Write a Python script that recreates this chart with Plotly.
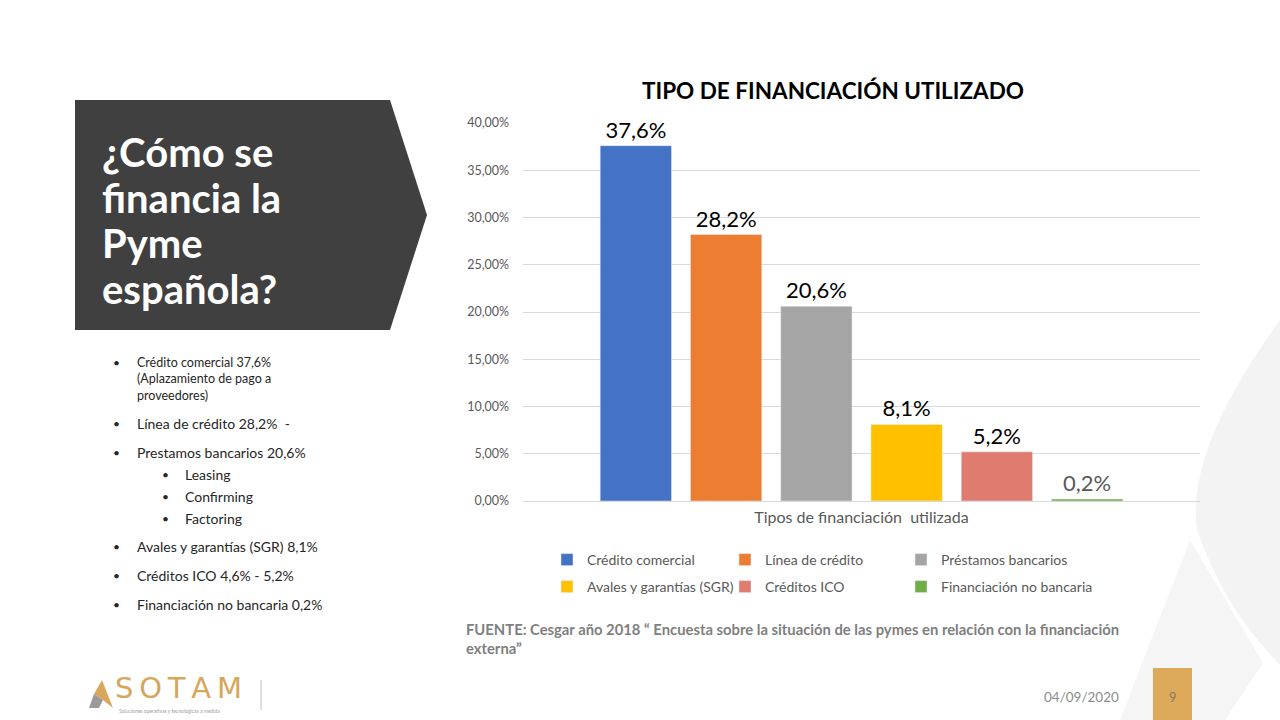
import plotly.graph_objects as go

W, H = 1280, 720

category = ["Tipos de financiación  utilizada"]
series_names = ["Crédito comercial", "Línea de crédito", "Préstamos bancarios",
                "Avales y garantías (SGR)", "Créditos ICO", "Financiación no bancaria"]
series_values = [0.376, 0.282, 0.206, 0.081, 0.052, 0.002]
series_labels = ["37,6%", "28,2%", "20,6%", "8,1%", "5,2%", "0,2%"]
series_colors = ["#4472C4", "#ED7D31", "#A5A5A5", "#FFC000", "#E07B70", "#70AD47"]
label_colors = ["#000000", "#000000", "#000000", "#000000", "#000000", "#595959"]
y_ticks = [0, 0.05, 0.10, 0.15, 0.20, 0.25, 0.30, 0.35, 0.40]

# legend entry positions (pixels): left x of text, centre y of row
legend_pos = [(587, 560), (765, 560), (941, 560), (587, 587), (765, 587), (941, 587)]

bullets = [
    (0, "Crédito comercial 37,6%<br>(Aplazamiento de pago a<br>proveedores)", 362, 12.5, 8.5),
    (0, "Línea de crédito 28,2%  -", 423, 14, 10.5),
    (0, "Prestamos bancarios 20,6%", 452, 14, 10.5),
    (1, "Leasing", 474, 14, 10.5),
    (1, "Confirming", 496, 14, 10.5),
    (1, "Factoring", 518, 14, 10.5),
    (0, "Avales y garantías (SGR) 8,1%", 546, 14, 10.5),
    (0, "Créditos ICO 4,6% - 5,2%", 575, 14, 10.5),
    (0, "Financiación no bancaria 0,2%", 604, 14, 10.5),
]

FONT = "Lato"


def px(x):
    return x / W


def py(y):
    return 1 - y / H


fig = go.Figure()
legend_cfg = {}
for i, (name, val, lab, col, lcol) in enumerate(
        zip(series_names, series_values, series_labels, series_colors, label_colors)):
    lname = "legend" if i == 0 else f"legend{i + 1}"
    fig.add_trace(go.Bar(
        x=category, y=[val], name=name, marker_color=col,
        text=[lab], textposition="outside", constraintext="none",
        textfont=dict(size=22, color=lcol, family=FONT),
        cliponaxis=False,
        legend=lname,
        hoverinfo="skip",
    ))
    lx, ly = legend_pos[i]
    legend_cfg[lname] = dict(
        orientation="h", x=px(lx - 40), y=py(ly), xanchor="left", yanchor="middle",
        itemwidth=30, font=dict(size=14, color="#595959", family=FONT),
        bgcolor="rgba(0,0,0,0)", itemclick=False, itemdoubleclick=False,
        borderwidth=0,
    )

shapes = []
annotations = []

# background faint decorative shapes
shapes.append(dict(type="path", xref="paper", yref="paper", layer="below",
                   path=f"M {px(1280)},{py(320)} Q {px(1185)},{py(450)} {px(1197)},{py(530)} "
                        f"Q {px(1225)},{py(610)} {px(1280)},{py(665)} Z",
                   fillcolor="#F3F3F3", line=dict(width=0)))
shapes.append(dict(type="path", xref="paper", yref="paper", layer="below",
                   path=f"M {px(1190)},{py(540)} L {px(1263)},{py(663)} L {px(1225)},{py(720)} "
                        f"L {px(1120)},{py(720)} Z",
                   fillcolor="#F5F5F5", line=dict(width=0)))

# left chevron panel
shapes.append(dict(type="path", xref="paper", yref="paper",
                   path=f"M {px(75)},{py(100)} L {px(390)},{py(100)} L {px(427)},{py(215)} "
                        f"L {px(390)},{py(330)} L {px(75)},{py(330)} Z",
                   fillcolor="#404040", line=dict(width=0)))
title_lines = ["¿Cómo se", "financia la", "Pyme", "española?"]
for k, t in enumerate(title_lines):
    annotations.append(dict(text=t, xref="paper", yref="paper", x=px(100), y=py(152 + 45.5 * k),
                            xanchor="left", yanchor="middle", showarrow=False,
                            font=dict(family=FONT, size=40, color="white", weight="bold")))

# bullet list
for lvl, t, yy, fs, off in bullets:
    tx = 135 if lvl == 0 else 183
    bx = 111 if lvl == 0 else 160
    annotations.append(dict(text="•", xref="paper", yref="paper", x=px(bx), y=py(yy),
                            xanchor="left", yanchor="middle", showarrow=False,
                            font=dict(family=FONT, size=12, color="#262626")))
    annotations.append(dict(text=t, xref="paper", yref="paper", x=px(tx), y=py(yy - off),
                            xanchor="left", yanchor="top", align="left", showarrow=False,
                            font=dict(family=FONT, size=fs, color="#262626")))

# chart title
annotations.append(dict(text="TIPO DE FINANCIACIÓN UTILIZADO", xref="paper", yref="paper",
                        x=px(833), y=py(90), xanchor="center", yanchor="middle", showarrow=False,
                        font=dict(family=FONT, size=22.5, color="#000000", weight="bold")))

# source
annotations.append(dict(text="FUENTE: Cesgar año 2018 “ Encuesta sobre la situación de las pymes en relación con la financiación<br>externa”",
                        xref="paper", yref="paper", x=px(464), y=py(618), xanchor="left", yanchor="top",
                        align="left", showarrow=False,
                        font=dict(family=FONT, size=14.8, color="#7F7F7F", weight="bold")))

# footer: date and page number
annotations.append(dict(text="04/09/2020", xref="paper", yref="paper", x=px(1081), y=py(697),
                        xanchor="center", yanchor="middle", showarrow=False,
                        font=dict(family=FONT, size=13.5, color="#8C8C8C")))
shapes.append(dict(type="rect", xref="paper", yref="paper", x0=px(1153), x1=px(1192),
                   y0=py(668), y1=py(720), fillcolor="#DDA95B", line=dict(width=0)))
annotations.append(dict(text="9", xref="paper", yref="paper", x=px(1172.5), y=py(697),
                        xanchor="center", yanchor="middle", showarrow=False,
                        font=dict(family=FONT, size=13, color="#8C7B60")))

# logo
shapes.append(dict(type="path", xref="paper", yref="paper",
                   path=f"M {px(102)},{py(680)} L {px(113)},{py(708)} L {px(103)},{py(700)} L {px(94)},{py(694)} Z",
                   fillcolor="#D9A75A", line=dict(width=0)))
shapes.append(dict(type="path", xref="paper", yref="paper",
                   path=f"M {px(94)},{py(694)} L {px(103)},{py(700)} L {px(99)},{py(708)} L {px(89)},{py(708)} Z",
                   fillcolor="#9A9A9A", line=dict(width=0)))
annotations.append(dict(text="S\u2009O\u2009T\u2009A\u2009M", xref="paper", yref="paper", x=px(113), y=py(688),
                        xanchor="left", yanchor="middle", showarrow=False,
                        font=dict(family="DejaVu Sans", size=29, color="#D6A65C")))
annotations.append(dict(text="Soluciones operativas y tecnológicas a medida", xref="paper", yref="paper",
                        x=px(117), y=py(711), xanchor="left", yanchor="middle", showarrow=False,
                        font=dict(family=FONT, size=5, color="#A0A0A0")))
shapes.append(dict(type="line", xref="paper", yref="paper", x0=px(261), x1=px(261),
                   y0=py(680), y1=py(710), line=dict(color="#BFBFBF", width=1)))

fig.update_layout(
    width=W, height=H,
    margin=dict(l=0, r=0, t=0, b=0, autoexpand=False),
    paper_bgcolor="white", plot_bgcolor="white",
    separators=",.",
    barmode="group", bargap=0.2, bargroupgap=0.21,
    font=dict(family=FONT, color="#595959"),
    xaxis=dict(domain=[px(523), px(1200)], showgrid=False, showline=True, linecolor="#D9D9D9",
               ticks="", tickfont=dict(size=16, color="#595959"), fixedrange=True,
               automargin=False, ticklabelstandoff=2),
    yaxis=dict(domain=[py(501), py(123)], range=[0, 0.4], tickvals=y_ticks, tickformat=".2%",
               showgrid=True, gridcolor="#D9D9D9", zeroline=False, showline=False,
               tickfont=dict(size=12.5, color="#595959"), ticks="", ticklabelstandoff=13,
               automargin=False, fixedrange=True),
    shapes=shapes,
    annotations=annotations,
    showlegend=True,
    **legend_cfg,
)

fig.write_html("out.html", config={"displayModeBar": False})
